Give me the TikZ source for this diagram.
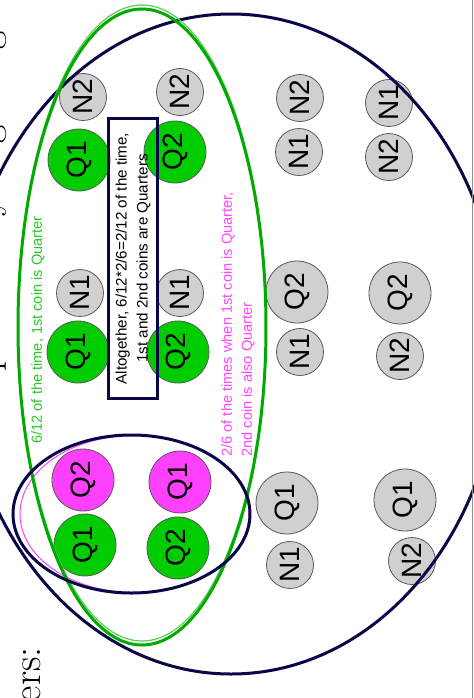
\documentclass[tikz,border=0pt]{standalone}
\usepackage{fontspec}
\newfontfamily\arialfont{Liberation Sans}
\definecolor{navyline}{RGB}{8,8,72}
\definecolor{ringgreen}{RGB}{0,170,0}
\definecolor{lightgreen}{RGB}{90,205,90}
\definecolor{coingreen}{RGB}{0,204,0}
\definecolor{coinpink}{RGB}{255,64,255}
\definecolor{coingray}{RGB}{208,208,208}
\definecolor{textgreen}{RGB}{40,200,40}
\definecolor{textpink}{RGB}{255,70,255}
\tikzset{
  coin/.style={circle, draw=black!65, line width=0.4pt, inner sep=0pt, rotate=90,
    font=\arialfont\fontsize{14}{14}\selectfont},
  qcoin/.style={coin, minimum size=31pt},
  ncoin/.style={coin, minimum size=23.5pt},
  qgreen/.style={qcoin, fill=coingreen},
  qpink/.style={qcoin, fill=coinpink},
  qgray/.style={qcoin, fill=coingray},
  ngray/.style={ncoin, fill=coingray},
  ring/.style={draw=navyline, line width=1.5pt},
  greenring/.style={draw=ringgreen, line width=1.5pt},
  notebox/.style={draw=navyline, line width=1.5pt, rotate=90, align=center,
    minimum width=140pt, minimum height=24.5pt, inner sep=0pt,
    font=\arialfont\fontsize{7.6}{10.5}\selectfont},
  remark/.style={rotate=90, inner sep=0pt, font=\arialfont\fontsize{7.3}{10}\selectfont},
  slidetitle/.style={rotate=90, inner sep=0pt, font=\fontsize{20}{24}\selectfont},
}
\begin{document}
\begin{tikzpicture}[x=0.5pt, y=-0.5pt]
  \useasboundingbox (0,0) rectangle (474,698);
  \clip (0,0) rectangle (474,698);
  % slide title, mostly cut off
  \node[slidetitle, anchor=base east] (titlea) at (-1.5,31) {probability of getting};
  \node[slidetitle, anchor=base east] (titleb) at (40,647) {two quarters:};
  % first column
  \node[ngray]  (na2) at (83,97)   {N2};
  \node[qgreen] (qa1) at (79,160)  {Q1};
  \node[ngray]  (nb1) at (80,293)  {N1};
  \node[qgreen] (qb1) at (78,352)  {Q1};
  \node[qpink]  (qc2) at (83,480)  {Q2};
  \node[qgreen] (qc1) at (85,545)  {Q1};
  % second column
  \node[ngray]  (nd2) at (180,92)  {N2};
  \node[qgreen] (qd2) at (175,152) {Q2};
  \node[ngray]  (ne1) at (180,293) {N1};
  \node[qgreen] (qe2) at (178,352) {Q2};
  \node[qpink]  (qf1) at (180,482) {Q1};
  \node[qgreen] (qf2) at (178,548) {Q2};
  % third column
  \node[ngray]  (ng2) at (300,98)  {N2};
  \node[ngray]  (ng1) at (299,152) {N1};
  \node[qgray]  (qh2) at (297,292) {Q2};
  \node[ngray]  (nh1) at (300,352) {N1};
  \node[qgray]  (qi1) at (287,503) {Q1};
  \node[ngray]  (ni1) at (290,565) {N1};
  % fourth column
  \node[ngray]  (nj1) at (389,103) {N1};
  \node[ngray]  (nj2) at (389,157) {N2};
  \node[qgray]  (qk2) at (400,293) {Q2};
  \node[ngray]  (nk2) at (400,356) {N2};
  \node[qgray]  (ql1) at (405,500) {Q1};
  \node[ngray]  (nl2) at (412,561) {N2};
  %
  \draw[coinpink, line width=0.5pt] (134.5,514) ellipse [x radius=114.5, y radius=78.5];
  \draw[ring] (231,344) ellipse [x radius=270, y radius=330];       % all pairs
  \draw[lightgreen, line width=0.6pt] (142,323) ellipse [x radius=124, y radius=318];
  \draw[greenring] (142,327) ellipse [x radius=124, y radius=318];  % 1st is quarter
  \draw[ring] (131.5,514) ellipse [x radius=118.5, y radius=79];    % both quarters
  %
  \node[notebox] (note) at (133,258.5)
    {Altogether, 6/12*2/6=2/12 of the time,\\1st and 2nd coins are Quarters};
  \node[remark, text=textgreen] (firstq) at (38,330)
    {6/12 of the time, 1st coin is Quarter};
  \node[remark, text=textpink, anchor=west, align=left] (secondq) at (238,457)
    {2/6 of the times when 1st coin is Quarter,\\2nd coin is also Quarter};
  %
  \draw[black!45, line width=0.8pt] (472.5,0) -- (472.5,698);
\end{tikzpicture}
\end{document}
